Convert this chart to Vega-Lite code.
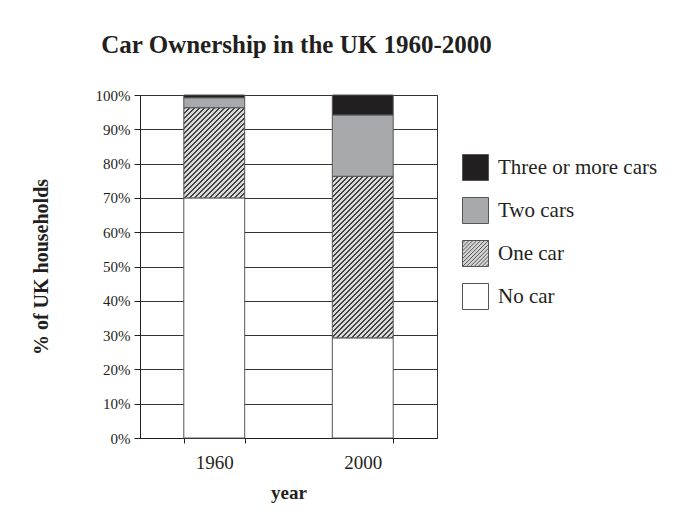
{
  "$schema": "https://vega.github.io/schema/vega-lite/v6.json",
  "autosize": {"type": "none"},
  "padding": {"left": 140, "top": 95, "right": 242, "bottom": 76},
  "width": 297,
  "height": 343,
  "background": "white",
  "config": {"view": {"stroke": "#333", "strokeWidth": 1}, "font": "Liberation Serif"},
  "title": {"text": "Car Ownership in the UK 1960-2000", "font": "Liberation Serif", "fontSize": 25, "fontWeight": "bold", "color": "#231f20", "anchor": "middle", "frame": "group", "dx": 8, "offset": 30},
  "data": {"values": [
    {"year": "1960", "type": "No car", "rank": 1, "pct": 70},
    {"year": "1960", "type": "One car", "rank": 2, "pct": 26.3},
    {"year": "1960", "type": "Two cars", "rank": 3, "pct": 2.9},
    {"year": "1960", "type": "Three or more cars", "rank": 4, "pct": 0.8},
    {"year": "2000", "type": "No car", "rank": 1, "pct": 29.2},
    {"year": "2000", "type": "One car", "rank": 2, "pct": 47.1},
    {"year": "2000", "type": "Two cars", "rank": 3, "pct": 17.9},
    {"year": "2000", "type": "Three or more cars", "rank": 4, "pct": 5.8}
  ]},
  "encoding": {
    "x": {"field": "year", "type": "nominal", "scale": {"paddingInner": 0.59, "paddingOuter": 0.295},
      "axis": {"title": "year", "labelAngle": 0, "tickBand": "extent", "grid": false, "domainColor": "#231f20", "tickColor": "#231f20", "tickSize": 5, "labelFont": "Liberation Serif", "labelFontSize": 19, "labelColor": "#231f20", "labelPadding": 10, "titleFont": "Liberation Serif", "titleFontSize": 19, "titleFontWeight": "bold", "titleColor": "#231f20", "titlePadding": 11}},
    "y": {"field": "pct", "type": "quantitative", "stack": "zero", "scale": {"domain": [0, 100], "nice": false},
      "axis": {"title": "% of UK households", "values": [0, 10, 20, 30, 40, 50, 60, 70, 80, 90, 100], "labelExpr": "datum.value + '%'", "grid": true, "gridColor": "#333", "gridWidth": 1, "domainColor": "#231f20", "tickColor": "#231f20", "tickSize": 6, "labelPadding": 4, "labelFont": "Liberation Serif", "labelFontSize": 15, "labelColor": "#231f20", "titleFont": "Liberation Serif", "titleFontSize": 20, "titleFontWeight": "bold", "titleColor": "#231f20", "titlePadding": 44}},
    "order": {"field": "rank", "type": "quantitative", "sort": "ascending"},
    "fill": {
      "condition": [
        {"test": "datum.type === 'One car' && datum.year === '1960'", "value": {"gradient": "linear", "x1": 0, "y1": 0, "x2": 1.1568, "y2": 1.7134, "stops": [
          {"offset":0,"color":"#444"},{"offset":0.0071,"color":"#444"},{"offset":0.0071,"color":"#d9d9d9"},
          {"offset":0.0222,"color":"#d9d9d9"},{"offset":0.0222,"color":"#444"},{"offset":0.0293,"color":"#444"},{"offset":0.0293,"color":"#d9d9d9"},
          {"offset":0.0444,"color":"#d9d9d9"},{"offset":0.0444,"color":"#444"},{"offset":0.0515,"color":"#444"},{"offset":0.0515,"color":"#d9d9d9"},
          {"offset":0.0667,"color":"#d9d9d9"},{"offset":0.0667,"color":"#444"},{"offset":0.0738,"color":"#444"},{"offset":0.0738,"color":"#d9d9d9"},
          {"offset":0.0889,"color":"#d9d9d9"},{"offset":0.0889,"color":"#444"},{"offset":0.0960,"color":"#444"},{"offset":0.0960,"color":"#d9d9d9"},
          {"offset":0.1111,"color":"#d9d9d9"},{"offset":0.1111,"color":"#444"},{"offset":0.1182,"color":"#444"},{"offset":0.1182,"color":"#d9d9d9"},
          {"offset":0.1333,"color":"#d9d9d9"},{"offset":0.1333,"color":"#444"},{"offset":0.1404,"color":"#444"},{"offset":0.1404,"color":"#d9d9d9"},
          {"offset":0.1556,"color":"#d9d9d9"},{"offset":0.1556,"color":"#444"},{"offset":0.1627,"color":"#444"},{"offset":0.1627,"color":"#d9d9d9"},
          {"offset":0.1778,"color":"#d9d9d9"},{"offset":0.1778,"color":"#444"},{"offset":0.1849,"color":"#444"},{"offset":0.1849,"color":"#d9d9d9"},
          {"offset":0.2000,"color":"#d9d9d9"},{"offset":0.2000,"color":"#444"},{"offset":0.2071,"color":"#444"},{"offset":0.2071,"color":"#d9d9d9"},
          {"offset":0.2222,"color":"#d9d9d9"},{"offset":0.2222,"color":"#444"},{"offset":0.2293,"color":"#444"},{"offset":0.2293,"color":"#d9d9d9"},
          {"offset":0.2444,"color":"#d9d9d9"},{"offset":0.2444,"color":"#444"},{"offset":0.2515,"color":"#444"},{"offset":0.2515,"color":"#d9d9d9"},
          {"offset":0.2667,"color":"#d9d9d9"},{"offset":0.2667,"color":"#444"},{"offset":0.2738,"color":"#444"},{"offset":0.2738,"color":"#d9d9d9"},
          {"offset":0.2889,"color":"#d9d9d9"},{"offset":0.2889,"color":"#444"},{"offset":0.2960,"color":"#444"},{"offset":0.2960,"color":"#d9d9d9"},
          {"offset":0.3111,"color":"#d9d9d9"},{"offset":0.3111,"color":"#444"},{"offset":0.3182,"color":"#444"},{"offset":0.3182,"color":"#d9d9d9"},
          {"offset":0.3333,"color":"#d9d9d9"},{"offset":0.3333,"color":"#444"},{"offset":0.3404,"color":"#444"},{"offset":0.3404,"color":"#d9d9d9"},
          {"offset":0.3556,"color":"#d9d9d9"},{"offset":0.3556,"color":"#444"},{"offset":0.3627,"color":"#444"},{"offset":0.3627,"color":"#d9d9d9"},
          {"offset":0.3778,"color":"#d9d9d9"},{"offset":0.3778,"color":"#444"},{"offset":0.3849,"color":"#444"},{"offset":0.3849,"color":"#d9d9d9"},
          {"offset":0.4000,"color":"#d9d9d9"},{"offset":0.4000,"color":"#444"},{"offset":0.4071,"color":"#444"},{"offset":0.4071,"color":"#d9d9d9"},
          {"offset":0.4222,"color":"#d9d9d9"},{"offset":0.4222,"color":"#444"},{"offset":0.4293,"color":"#444"},{"offset":0.4293,"color":"#d9d9d9"},
          {"offset":0.4444,"color":"#d9d9d9"},{"offset":0.4444,"color":"#444"},{"offset":0.4515,"color":"#444"},{"offset":0.4515,"color":"#d9d9d9"},
          {"offset":0.4667,"color":"#d9d9d9"},{"offset":0.4667,"color":"#444"},{"offset":0.4738,"color":"#444"},{"offset":0.4738,"color":"#d9d9d9"},
          {"offset":0.4889,"color":"#d9d9d9"},{"offset":0.4889,"color":"#444"},{"offset":0.4960,"color":"#444"},{"offset":0.4960,"color":"#d9d9d9"},
          {"offset":0.5111,"color":"#d9d9d9"},{"offset":0.5111,"color":"#444"},{"offset":0.5182,"color":"#444"},{"offset":0.5182,"color":"#d9d9d9"},
          {"offset":0.5333,"color":"#d9d9d9"},{"offset":0.5333,"color":"#444"},{"offset":0.5404,"color":"#444"},{"offset":0.5404,"color":"#d9d9d9"},
          {"offset":0.5556,"color":"#d9d9d9"},{"offset":0.5556,"color":"#444"},{"offset":0.5627,"color":"#444"},{"offset":0.5627,"color":"#d9d9d9"},
          {"offset":0.5778,"color":"#d9d9d9"},{"offset":0.5778,"color":"#444"},{"offset":0.5849,"color":"#444"},{"offset":0.5849,"color":"#d9d9d9"},
          {"offset":0.6000,"color":"#d9d9d9"},{"offset":0.6000,"color":"#444"},{"offset":0.6071,"color":"#444"},{"offset":0.6071,"color":"#d9d9d9"},
          {"offset":0.6222,"color":"#d9d9d9"},{"offset":0.6222,"color":"#444"},{"offset":0.6293,"color":"#444"},{"offset":0.6293,"color":"#d9d9d9"},
          {"offset":0.6444,"color":"#d9d9d9"},{"offset":0.6444,"color":"#444"},{"offset":0.6515,"color":"#444"},{"offset":0.6515,"color":"#d9d9d9"},
          {"offset":0.6667,"color":"#d9d9d9"},{"offset":0.6667,"color":"#444"},{"offset":0.6738,"color":"#444"},{"offset":0.6738,"color":"#d9d9d9"}
        ]}},
        {"test": "datum.type === 'One car' && datum.year === '2000'", "value": {"gradient": "linear", "x1": 0, "y1": 0, "x2": 0.4597, "y2": 1.2195, "stops": [
          {"offset":0,"color":"#444"},{"offset":0.0071,"color":"#444"},{"offset":0.0071,"color":"#d9d9d9"},
          {"offset":0.0222,"color":"#d9d9d9"},{"offset":0.0222,"color":"#444"},{"offset":0.0293,"color":"#444"},{"offset":0.0293,"color":"#d9d9d9"},
          {"offset":0.0444,"color":"#d9d9d9"},{"offset":0.0444,"color":"#444"},{"offset":0.0515,"color":"#444"},{"offset":0.0515,"color":"#d9d9d9"},
          {"offset":0.0667,"color":"#d9d9d9"},{"offset":0.0667,"color":"#444"},{"offset":0.0738,"color":"#444"},{"offset":0.0738,"color":"#d9d9d9"},
          {"offset":0.0889,"color":"#d9d9d9"},{"offset":0.0889,"color":"#444"},{"offset":0.0960,"color":"#444"},{"offset":0.0960,"color":"#d9d9d9"},
          {"offset":0.1111,"color":"#d9d9d9"},{"offset":0.1111,"color":"#444"},{"offset":0.1182,"color":"#444"},{"offset":0.1182,"color":"#d9d9d9"},
          {"offset":0.1333,"color":"#d9d9d9"},{"offset":0.1333,"color":"#444"},{"offset":0.1404,"color":"#444"},{"offset":0.1404,"color":"#d9d9d9"},
          {"offset":0.1556,"color":"#d9d9d9"},{"offset":0.1556,"color":"#444"},{"offset":0.1627,"color":"#444"},{"offset":0.1627,"color":"#d9d9d9"},
          {"offset":0.1778,"color":"#d9d9d9"},{"offset":0.1778,"color":"#444"},{"offset":0.1849,"color":"#444"},{"offset":0.1849,"color":"#d9d9d9"},
          {"offset":0.2000,"color":"#d9d9d9"},{"offset":0.2000,"color":"#444"},{"offset":0.2071,"color":"#444"},{"offset":0.2071,"color":"#d9d9d9"},
          {"offset":0.2222,"color":"#d9d9d9"},{"offset":0.2222,"color":"#444"},{"offset":0.2293,"color":"#444"},{"offset":0.2293,"color":"#d9d9d9"},
          {"offset":0.2444,"color":"#d9d9d9"},{"offset":0.2444,"color":"#444"},{"offset":0.2515,"color":"#444"},{"offset":0.2515,"color":"#d9d9d9"},
          {"offset":0.2667,"color":"#d9d9d9"},{"offset":0.2667,"color":"#444"},{"offset":0.2738,"color":"#444"},{"offset":0.2738,"color":"#d9d9d9"},
          {"offset":0.2889,"color":"#d9d9d9"},{"offset":0.2889,"color":"#444"},{"offset":0.2960,"color":"#444"},{"offset":0.2960,"color":"#d9d9d9"},
          {"offset":0.3111,"color":"#d9d9d9"},{"offset":0.3111,"color":"#444"},{"offset":0.3182,"color":"#444"},{"offset":0.3182,"color":"#d9d9d9"},
          {"offset":0.3333,"color":"#d9d9d9"},{"offset":0.3333,"color":"#444"},{"offset":0.3404,"color":"#444"},{"offset":0.3404,"color":"#d9d9d9"},
          {"offset":0.3556,"color":"#d9d9d9"},{"offset":0.3556,"color":"#444"},{"offset":0.3627,"color":"#444"},{"offset":0.3627,"color":"#d9d9d9"},
          {"offset":0.3778,"color":"#d9d9d9"},{"offset":0.3778,"color":"#444"},{"offset":0.3849,"color":"#444"},{"offset":0.3849,"color":"#d9d9d9"},
          {"offset":0.4000,"color":"#d9d9d9"},{"offset":0.4000,"color":"#444"},{"offset":0.4071,"color":"#444"},{"offset":0.4071,"color":"#d9d9d9"},
          {"offset":0.4222,"color":"#d9d9d9"},{"offset":0.4222,"color":"#444"},{"offset":0.4293,"color":"#444"},{"offset":0.4293,"color":"#d9d9d9"},
          {"offset":0.4444,"color":"#d9d9d9"},{"offset":0.4444,"color":"#444"},{"offset":0.4515,"color":"#444"},{"offset":0.4515,"color":"#d9d9d9"},
          {"offset":0.4667,"color":"#d9d9d9"},{"offset":0.4667,"color":"#444"},{"offset":0.4738,"color":"#444"},{"offset":0.4738,"color":"#d9d9d9"},
          {"offset":0.4889,"color":"#d9d9d9"},{"offset":0.4889,"color":"#444"},{"offset":0.4960,"color":"#444"},{"offset":0.4960,"color":"#d9d9d9"},
          {"offset":0.5111,"color":"#d9d9d9"},{"offset":0.5111,"color":"#444"},{"offset":0.5182,"color":"#444"},{"offset":0.5182,"color":"#d9d9d9"},
          {"offset":0.5333,"color":"#d9d9d9"},{"offset":0.5333,"color":"#444"},{"offset":0.5404,"color":"#444"},{"offset":0.5404,"color":"#d9d9d9"},
          {"offset":0.5556,"color":"#d9d9d9"},{"offset":0.5556,"color":"#444"},{"offset":0.5627,"color":"#444"},{"offset":0.5627,"color":"#d9d9d9"},
          {"offset":0.5778,"color":"#d9d9d9"},{"offset":0.5778,"color":"#444"},{"offset":0.5849,"color":"#444"},{"offset":0.5849,"color":"#d9d9d9"},
          {"offset":0.6000,"color":"#d9d9d9"},{"offset":0.6000,"color":"#444"},{"offset":0.6071,"color":"#444"},{"offset":0.6071,"color":"#d9d9d9"},
          {"offset":0.6222,"color":"#d9d9d9"},{"offset":0.6222,"color":"#444"},{"offset":0.6293,"color":"#444"},{"offset":0.6293,"color":"#d9d9d9"},
          {"offset":0.6444,"color":"#d9d9d9"},{"offset":0.6444,"color":"#444"},{"offset":0.6515,"color":"#444"},{"offset":0.6515,"color":"#d9d9d9"},
          {"offset":0.6667,"color":"#d9d9d9"},{"offset":0.6667,"color":"#444"},{"offset":0.6738,"color":"#444"},{"offset":0.6738,"color":"#d9d9d9"},
          {"offset":0.6889,"color":"#d9d9d9"},{"offset":0.6889,"color":"#444"},{"offset":0.6960,"color":"#444"},{"offset":0.6960,"color":"#d9d9d9"},
          {"offset":0.7111,"color":"#d9d9d9"},{"offset":0.7111,"color":"#444"},{"offset":0.7182,"color":"#444"},{"offset":0.7182,"color":"#d9d9d9"},
          {"offset":0.7333,"color":"#d9d9d9"},{"offset":0.7333,"color":"#444"},{"offset":0.7404,"color":"#444"},{"offset":0.7404,"color":"#d9d9d9"},
          {"offset":0.7556,"color":"#d9d9d9"},{"offset":0.7556,"color":"#444"},{"offset":0.7627,"color":"#444"},{"offset":0.7627,"color":"#d9d9d9"},
          {"offset":0.7778,"color":"#d9d9d9"},{"offset":0.7778,"color":"#444"},{"offset":0.7849,"color":"#444"},{"offset":0.7849,"color":"#d9d9d9"},
          {"offset":0.8000,"color":"#d9d9d9"},{"offset":0.8000,"color":"#444"},{"offset":0.8071,"color":"#444"},{"offset":0.8071,"color":"#d9d9d9"},
          {"offset":0.8222,"color":"#d9d9d9"},{"offset":0.8222,"color":"#444"},{"offset":0.8293,"color":"#444"},{"offset":0.8293,"color":"#d9d9d9"},
          {"offset":0.8444,"color":"#d9d9d9"},{"offset":0.8444,"color":"#444"},{"offset":0.8515,"color":"#444"},{"offset":0.8515,"color":"#d9d9d9"},
          {"offset":0.8667,"color":"#d9d9d9"},{"offset":0.8667,"color":"#444"},{"offset":0.8738,"color":"#444"},{"offset":0.8738,"color":"#d9d9d9"},
          {"offset":0.8889,"color":"#d9d9d9"},{"offset":0.8889,"color":"#444"},{"offset":0.8960,"color":"#444"},{"offset":0.8960,"color":"#d9d9d9"},
          {"offset":0.9111,"color":"#d9d9d9"},{"offset":0.9111,"color":"#444"},{"offset":0.9182,"color":"#444"},{"offset":0.9182,"color":"#d9d9d9"},
          {"offset":0.9333,"color":"#d9d9d9"},{"offset":0.9333,"color":"#444"},{"offset":0.9404,"color":"#444"},{"offset":0.9404,"color":"#d9d9d9"},
          {"offset":0.9556,"color":"#d9d9d9"},{"offset":0.9556,"color":"#444"},{"offset":0.9627,"color":"#444"},{"offset":0.9627,"color":"#d9d9d9"},
          {"offset":0.9778,"color":"#d9d9d9"},{"offset":0.9778,"color":"#444"},{"offset":0.9849,"color":"#444"},{"offset":0.9849,"color":"#d9d9d9"}
        ]}}
      ],
      "field": "type",
      "type": "nominal",
      "scale": {"domain": ["Three or more cars", "Two cars", "One car", "No car"], "range": ["#231f20", "#a7a9ac", "#d4d4d4", "#ffffff"]},
      "legend": {
        "title": null,
        "orient": "none",
        "legendX": 322,
        "legendY": 59,
        "symbolSize": 676,
        "symbolStrokeWidth": 1,
        "symbolOpacity": 1,
        "labelFont": "Liberation Serif",
        "labelFontSize": 21,
        "labelColor": "#231f20",
        "labelOffset": 9,
        "rowPadding": 12
      }
    }
  },
  "layer": [
    {"mark": {"type": "bar", "stroke": "#555", "strokeWidth": 1}},
    {
      "mark": {"type": "point", "filled": true, "opacity": 0, "stroke": "#555", "strokeWidth": 1},
      "encoding": {
        "shape": {
          "field": "type", "type": "nominal",
          "scale": {"domain": ["Three or more cars", "Two cars", "One car", "No car"], "range": [
            "M-1,-1H1V1H-1Z",
            "M-1,-1H1V1H-1Z",
            "M-1,-1H1V1H-1Z M-1,-0.8L-0.8,-1 M-1,-0.5L-0.5,-1 M-1,-0.2L-0.2,-1 M-1,0.1L0.1,-1 M-1,0.4L0.4,-1 M-1,0.7L0.7,-1 M-1,1L1,-1 M-0.7,1L1,-0.7 M-0.4,1L1,-0.4 M-0.1,1L1,-0.1 M0.2,1L1,0.2 M0.5,1L1,0.5 M0.8,1L1,0.8",
            "M-1,-1H1V1H-1Z"
          ]},
          "legend": {
            "title": null,
            "orient": "none",
            "legendX": 322,
            "legendY": 59,
            "symbolSize": 676,
            "symbolStrokeWidth": 1,
            "symbolOpacity": 1,
            "labelFont": "Liberation Serif",
            "labelFontSize": 21,
            "labelColor": "#231f20",
            "labelOffset": 9,
            "rowPadding": 12
          }
        }
      }
    }
  ]
}
